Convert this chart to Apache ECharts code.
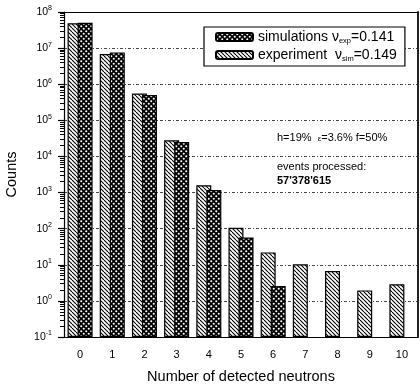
<!DOCTYPE html>
<html><head><meta charset="utf-8">
<script src="https://cdn.jsdelivr.net/npm/echarts@6/dist/echarts.min.js"></script>
<style>html,body{margin:0;padding:0;background:#fff}#c{width:420px;height:388px}</style>
</head><body><div id="c"></div>
<script>
// ---- data ----
const categories = ['0','1','2','3','4','5','6','7','8','9','10'];
const experiment = [4.9e7, 6.9e6, 5.5e5, 2.8e4, 1.6e3, 106, 22, 10.3, 6.7, 1.95, 2.9];
const simulations = [5.0e7, 7.6e6, 5.0e5, 2.5e4, 1.18e3, 57, 2.6, null, null, null, null];
const yMin = 0.1, yMax = 1e8;
const legendSim = 'simulations';
const legendExp = 'experiment';
const annot1 = 'h=19%  {e|ε}=3.6% f=50%';
const annot2 = 'events processed:';
const annot3 = "57'378'615";

const FONT = 'Liberation Sans, Arial, Helvetica, sans-serif';

function hatchPattern() {
  const s = 4, c = document.createElement('canvas');
  c.width = s; c.height = s;
  const g = c.getContext('2d');
  g.fillStyle = '#fff'; g.fillRect(0, 0, s, s);
  g.strokeStyle = '#000'; g.lineWidth = 1.1;
  for (let k = -1; k <= 1; k++) {
    g.beginPath(); g.moveTo(k * s, 0); g.lineTo(k * s + s, s); g.stroke();
  }
  return c;
}
function crossPattern() {
  const s = 5, c = document.createElement('canvas');
  c.width = s; c.height = s;
  const g = c.getContext('2d');
  g.fillStyle = '#000'; g.fillRect(0, 0, s, s);
  g.fillStyle = '#fff';
  [[1.25, 1.25], [3.75, 3.75]].forEach(p => { g.beginPath(); g.arc(p[0], p[1], 1.05, 0, Math.PI * 2); g.fill(); });
  return c;
}

// minor log ticks, expressed as log10 positions on a hidden linear axis
const logMin = Math.log10(yMin), logMax = Math.log10(yMax);
const minorTicks = [];
for (let d = -1; d < 8; d++) for (let m = 2; m <= 9; m++) minorTicks.push(d + Math.log10(m));

const chart = echarts.init(document.getElementById('c'), null, { renderer: 'canvas' });
const hatch = { image: hatchPattern(), repeat: 'repeat' };
const cross = { image: crossPattern(), repeat: 'repeat' };

function expLabel(v) {
  const e = Math.round(Math.log10(v));
  return '10{s|' + e + '}';
}

const GRID_L = 64, GRID_R = 2, W = 420;
const gridPos = { left: GRID_L, top: 12, right: GRID_R, bottom: 51, containLabel: false, outerBoundsMode: 'none' };
const blackLine = { color: '#000', width: 1.2 };

chart.setOption({
  animation: false,
  textStyle: { fontFamily: FONT, color: '#000' },
  grid: [Object.assign({}, gridPos), Object.assign({}, gridPos)],
  legend: {
    data: [legendSim, legendExp],
    orient: 'vertical',
    left: 204, top: 27,
    padding: [3, 8, 3, 11],
    itemWidth: 37, itemHeight: 8, itemGap: 3,
    backgroundColor: '#fff',
    borderColor: '#000', borderWidth: 1.2,
    selectedMode: false,
    textStyle: {
      fontFamily: FONT, fontSize: 14, color: '#000',
      rich: { sub: { fontSize: 7.5, fontFamily: FONT, padding: [8, 0, 0, 0] } }
    },
    formatter: function (n) {
      return n === legendSim ? 'simulations ν{sub|exp}=0.141' : 'experiment  ν{sub|sim}=0.149';
    }
  },
  xAxis: [
    {
      type: 'category', data: categories, gridIndex: 0, position: 'bottom',
      axisLine: { onZero: false, lineStyle: blackLine },
      axisTick: { alignWithLabel: true, length: 7, lineStyle: blackLine },
      axisLabel: { fontSize: 11, color: '#000', margin: 12, fontFamily: FONT },
      name: 'Number of detected neutrons', nameLocation: 'middle', nameGap: 32,
      nameTextStyle: { fontSize: 14.5, color: '#000', fontFamily: FONT }
    },
    {
      type: 'category', data: categories, gridIndex: 0, position: 'top',
      axisLine: { onZero: false, lineStyle: blackLine },
      axisTick: { alignWithLabel: true, length: 7, lineStyle: blackLine },
      axisLabel: { show: false }
    },
    {
      type: 'category', data: categories, gridIndex: 1, position: 'bottom',
      axisLine: { show: false, onZero: false }, axisLabel: { show: false },
      axisTick: { length: 3, lineStyle: { color: '#000', width: 1 } }
    },
    {
      type: 'category', data: categories, gridIndex: 1, position: 'top',
      axisLine: { show: false, onZero: false }, axisLabel: { show: false },
      axisTick: { length: 3, lineStyle: { color: '#000', width: 1 } }
    }
  ],
  yAxis: [
    {
      type: 'log', logBase: 10, min: yMin, max: yMax, gridIndex: 0, position: 'left', startValue: yMin,
      axisLine: { show: true, onZero: false, lineStyle: blackLine },
      axisTick: { show: true, length: 6, lineStyle: blackLine },
      axisLabel: {
        formatter: expLabel, fontSize: 10.5, color: '#000', margin: 12, fontFamily: FONT,
        rich: { s: { fontSize: 7, fontFamily: FONT, padding: [0, 0, 7, 0] } }
      },
      splitLine: { show: true, lineStyle: { color: '#333', width: 0.9, type: [3, 2, 1, 2] } },
      name: 'Counts', nameLocation: 'middle', nameGap: 45,
      nameTextStyle: { fontSize: 14.5, color: '#000', fontFamily: FONT }
    },
    {
      type: 'log', logBase: 10, min: yMin, max: yMax, gridIndex: 0, position: 'right',
      axisLine: { show: true, onZero: false, lineStyle: { color: '#222', width: 2 } },
      axisTick: { show: false }, axisLabel: { show: false }, splitLine: { show: false }
    },
    {
      type: 'value', min: logMin, max: logMax, gridIndex: 1, position: 'right',
      offset: -(W - GRID_L - GRID_R),
      axisLine: { show: false, onZero: false },
      axisTick: { show: true, inside: true, length: 4, customValues: minorTicks, lineStyle: { color: '#000', width: 1 } },
      axisLabel: { show: false }, splitLine: { show: false }
    }
  ],
  series: [
    {
      name: legendExp, type: 'bar', xAxisIndex: 0, yAxisIndex: 0,
      data: experiment, barWidth: 15, barGap: '-33%',
      itemStyle: { color: hatch, borderColor: '#000', borderWidth: 1.2 }
    },
    {
      name: legendSim, type: 'bar', xAxisIndex: 0, yAxisIndex: 0,
      data: simulations, barWidth: 15, barGap: '-33%',
      itemStyle: { color: cross, borderColor: '#000', borderWidth: 1.2 }
    }
  ],
  graphic: [
    { type: 'text', left: 277, top: 132, style: { text: annot1, font: '11px ' + FONT, fill: '#000',
      rich: { e: { fontSize: 8, fontFamily: FONT, padding: [2, 0, 0, 0] } } } },
    { type: 'text', left: 277, top: 161, style: { text: annot2, font: '11px ' + FONT, fill: '#000' } },
    { type: 'text', left: 277, top: 175, style: { text: annot3, font: 'bold 11px ' + FONT, fill: '#000' } }
  ]
});
</script>
</body></html>
